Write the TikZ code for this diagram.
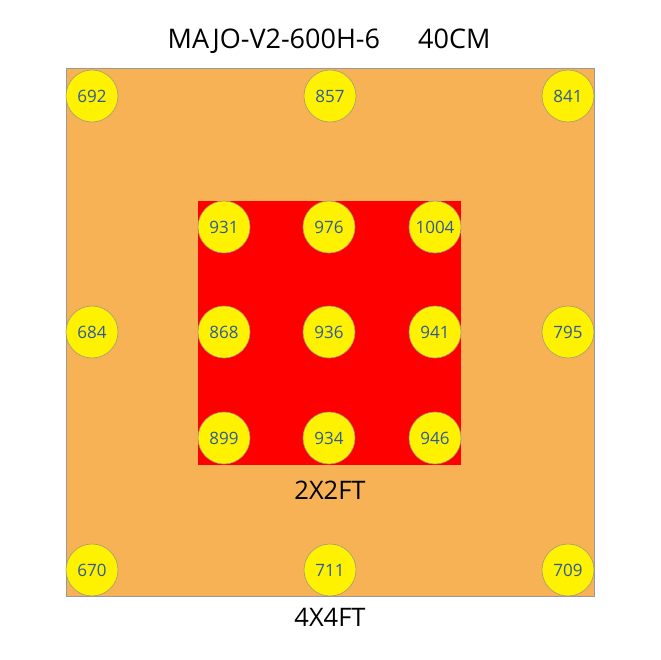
\documentclass[tikz,border=0pt]{standalone}
\usepackage{fontspec}
\setmainfont{Open Sans}
\definecolor{boardorange}{HTML}{F7B256}
\definecolor{ppfdblue}{HTML}{2F5A9A}
\definecolor{rimgray}{HTML}{A09A80}
\begin{document}
\begin{tikzpicture}[x=1pt,y=-1pt,
  spot/.style={circle,fill=yellow,draw=rimgray,line width=0.6pt,minimum size=52pt,inner sep=0pt,text=ppfdblue,font=\fontsize{17}{20}\selectfont},
  lbl/.style={font=\fontsize{25.5}{30}\selectfont,text=black}]
\useasboundingbox (0,0) rectangle (660,660);
\fill[white] (0,0) rectangle (660,660);
\node[lbl,font=\fontsize{27}{32}\selectfont,anchor=center] (title) at (329,41) {MAJO-V2-600H-6\hspace{38pt}40CM};
\draw[fill=boardorange,draw=gray!80,line width=0.6pt] (66,68) rectangle (594,596);
\fill[red] (198,201) rectangle (461,465);
\node[lbl] (small) at (330,490) {2X2FT};
\node[lbl] (big) at (330,617) {4X4FT};
% outer
\node[spot] (a1) at (92,96) {692};
\node[spot] (a2) at (330,96) {857};
\node[spot] (a3) at (568,96) {841};
\node[spot] (b1) at (92,332) {684};
\node[spot] (b3) at (568,332) {795};
\node[spot] (c1) at (92,570) {670};
\node[spot] (c2) at (330,570) {711};
\node[spot] (c3) at (568,570) {709};
% inner
\node[spot] (i11) at (224,227) {931};
\node[spot] (i12) at (329,227) {976};
\node[spot] (i13) at (435,227) {1004};
\node[spot] (i21) at (224,332) {868};
\node[spot] (i22) at (329,332) {936};
\node[spot] (i23) at (435,332) {941};
\node[spot] (i31) at (224,438) {899};
\node[spot] (i32) at (329,438) {934};
\node[spot] (i33) at (435,438) {946};
\end{tikzpicture}
\end{document}
